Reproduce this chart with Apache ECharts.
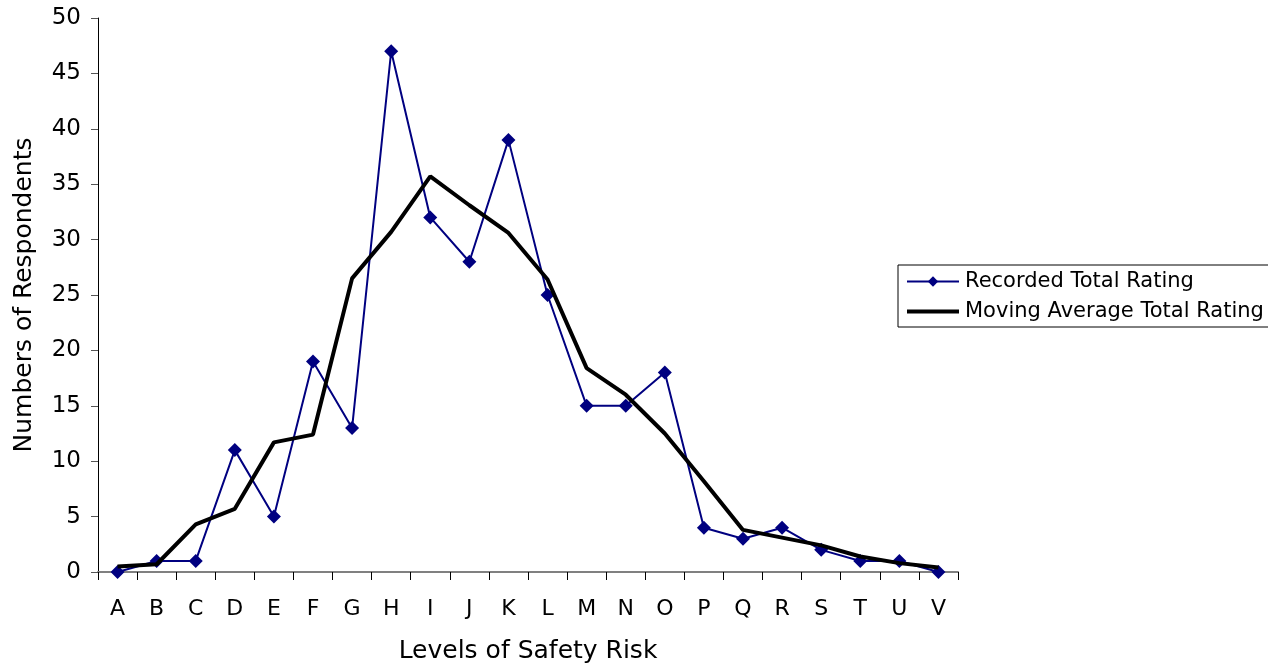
<!DOCTYPE html>
<html>
<head>
<meta charset="utf-8">
<script src="https://cdn.jsdelivr.net/npm/echarts@6/dist/echarts.min.js"></script>
<style>
  html, body { margin: 0; padding: 0; background: #fff; }
  #chart { width: 1268px; height: 669px; }
</style>
</head>
<body>
<div id="chart"></div>
<script>
// Safety risk levels on the horizontal axis
const riskLevels = ['A','B','C','D','E','F','G','H','I','J','K','L','M','N','O','P','Q','R','S','T','U','V'];

// Respondent counts recorded per level
const recordedTotal = [0, 1, 1, 11, 5, 19, 13, 47, 32, 28, 39, 25, 15, 15, 18, 4, 3, 4, 2, 1, 1, 0];

// Smoothed (moving average) respondent counts
const movingAverageTotal = [0.5, 0.7, 4.3, 5.7, 11.7, 12.4, 26.5, 30.7, 35.7, 33.1, 30.6, 26.4, 18.4, 16.0, 12.5, 8.2, 3.8, 3.1, 2.4, 1.4, 0.8, 0.4];

const yTicks = { min: 0, max: 50, interval: 5 };

const font = 'Verdana, "DejaVu Sans", sans-serif';

const chart = echarts.init(document.getElementById('chart'), null, { renderer: 'canvas' });

chart.setOption({
  animation: false,
  backgroundColor: '#ffffff',
  textStyle: { fontFamily: font, color: '#000' },
  grid: { left: 98, right: 310, top: 18, bottom: 97, containLabel: false },
  legend: {
    orient: 'vertical',
    left: 898,
    top: 265,
    padding: [6, 90, 5, 7],
    itemGap: 9,
    itemWidth: 52,
    itemHeight: 13,
    borderColor: '#000',
    borderWidth: 1,
    borderRadius: 0,
    textStyle: { fontFamily: font, fontSize: 21, color: '#000', padding: [0, 0, 0, 1] },
    data: [
      { name: 'Recorded Total Rating' },
      {
        name: 'Moving Average Total Rating',
        itemStyle: { opacity: 0 },
        lineStyle: { color: '#000', width: 4 }
      }
    ]
  },
  xAxis: {
    type: 'category',
    data: riskLevels,
    boundaryGap: true,
    name: 'Levels of Safety Risk',
    nameLocation: 'middle',
    nameGap: 67,
    nameTextStyle: { fontFamily: font, fontSize: 25, color: '#000' },
    axisLine: { lineStyle: { color: '#808080', width: 2 } },
    axisTick: { show: true, length: 8, alignWithLabel: false, lineStyle: { color: '#000', width: 1 } },
    axisLabel: { fontFamily: font, fontSize: 22, color: '#000', margin: 26 },
    splitLine: { show: false }
  },
  yAxis: {
    type: 'value',
    min: yTicks.min,
    max: yTicks.max,
    interval: yTicks.interval,
    name: 'Numbers of Respondents',
    nameLocation: 'middle',
    nameGap: 61,
    nameRotate: 90,
    nameTextStyle: { fontFamily: font, fontSize: 25, color: '#000' },
    axisLine: { show: true, lineStyle: { color: '#000', width: 1 } },
    axisTick: { show: true, length: 7, lineStyle: { color: '#555', width: 1 } },
    axisLabel: { fontFamily: font, fontSize: 23, color: '#000', margin: 17 },
    splitLine: { show: false }
  },
  series: [
    {
      name: 'Recorded Total Rating',
      type: 'line',
      data: recordedTotal,
      symbol: 'diamond',
      symbolSize: 14,
      itemStyle: { color: '#000080' },
      lineStyle: { color: '#000080', width: 2 },
      z: 2
    },
    {
      name: 'Moving Average Total Rating',
      type: 'line',
      data: movingAverageTotal,
      symbol: 'none',
      itemStyle: { color: '#000' },
      lineStyle: { color: '#000', width: 4 },
      z: 3
    }
  ]
});
</script>
</body>
</html>
